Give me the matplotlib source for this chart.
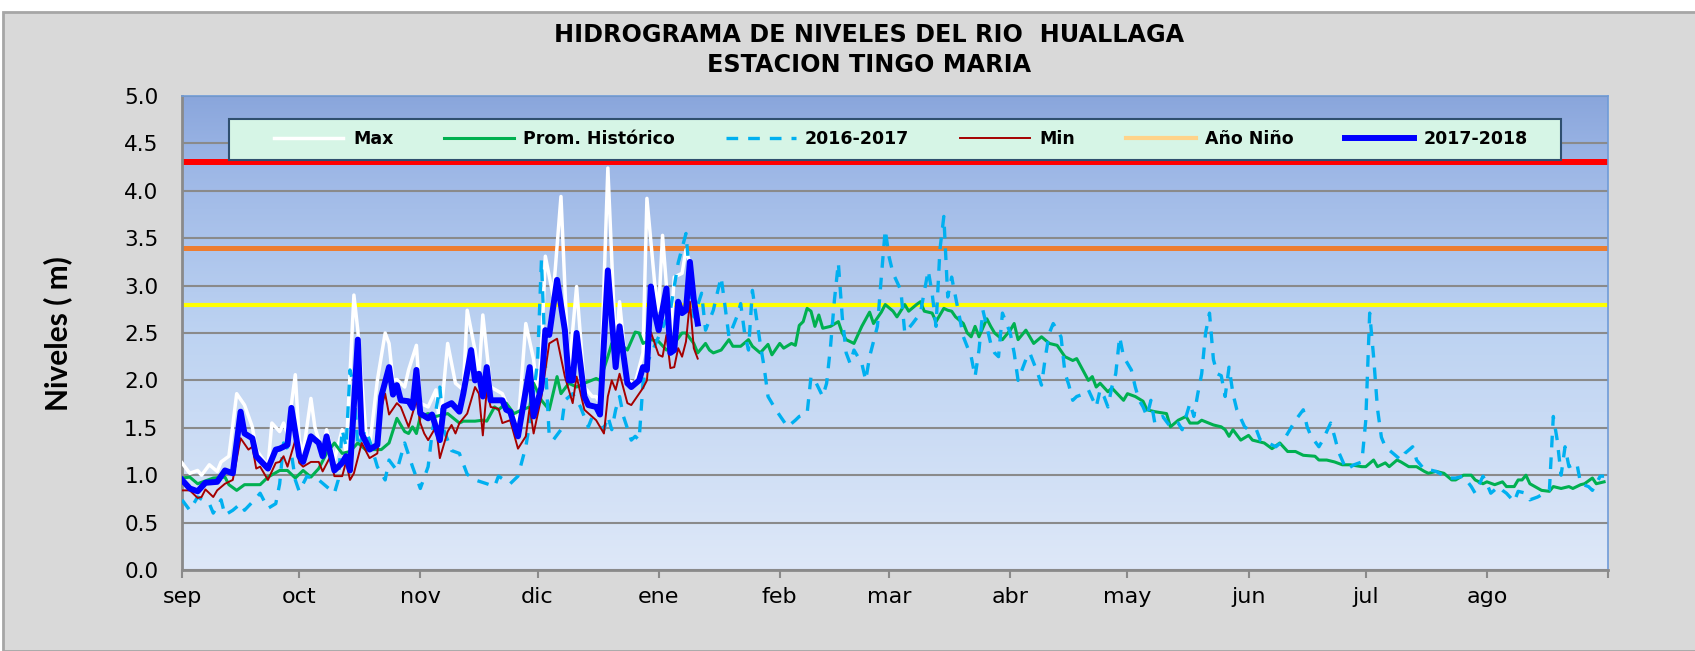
import numpy as np
import matplotlib
matplotlib.use("Agg")
import matplotlib.pyplot as plt
from matplotlib.colors import LinearSegmentedColormap
from matplotlib.patches import Rectangle

# months (hydrological year sep -> ago) and their lengths in days
months = ["sep", "oct", "nov", "dic", "ene", "feb", "mar", "abr", "may", "jun", "jul", "ago"]
month_len = [30, 31, 30, 31, 31, 28, 31, 30, 31, 30, 31, 31]

# threshold levels (m)
umbral_rojo = 4.3
umbral_naranja = 3.4
umbral_amarillo = 2.8

# 2017-2018 (day of hydrological year, level m)
d_1718 = [0, 2, 4, 6, 9, 11, 13, 15, 16, 18, 19, 22, 24, 25, 27, 28, 30, 31, 33, 35, 36, 37, 39, 41, 42, 43,
          45, 46, 48, 50, 51, 53, 54, 55, 56, 58, 59, 60, 61, 63, 64, 66, 67, 69, 71, 72, 74, 75, 76, 77, 78,
          79, 82, 83, 84, 86, 89, 90, 92, 93, 94, 96, 98, 99, 100, 101, 103, 104, 106, 107, 109, 111, 112,
          114, 115, 117, 118, 119, 120, 121, 122, 124, 125, 126, 127, 128, 129, 130, 131, 132]
v_1718 = [0.95, 0.86, 0.83, 0.92, 0.93, 1.05, 1.02, 1.67, 1.44, 1.39, 1.20, 1.07, 1.27, 1.28, 1.32, 1.71,
          1.20, 1.14, 1.41, 1.34, 1.20, 1.41, 1.05, 1.13, 1.20, 1.05, 2.43, 1.44, 1.27, 1.32, 1.83, 2.14,
          1.85, 1.95, 1.79, 1.78, 1.71, 2.11, 1.65, 1.60, 1.64, 1.37, 1.72, 1.76, 1.67, 1.86, 2.32, 2.00,
          2.07, 1.83, 2.14, 1.79, 1.79, 1.69, 1.67, 1.41, 2.14, 1.62, 1.93, 2.53, 2.48, 3.06, 2.53, 2.00,
          2.00, 2.50, 1.83, 1.74, 1.72, 1.64, 3.16, 2.14, 2.57, 1.97, 1.93, 2.00, 2.14, 2.11, 2.99, 2.71,
          2.53, 2.97, 2.29, 2.32, 2.83, 2.71, 2.74, 3.25, 2.85, 2.60]

# Max
d_max = [0, 2, 4, 5, 7, 9, 10, 12, 14, 16, 18, 19, 22, 23, 25, 26, 27, 29, 30, 31, 33, 34, 36, 37, 39, 41,
         42, 44, 45, 47, 48, 50, 52, 53, 54, 55, 57, 58, 60, 61, 63, 65, 66, 68, 70, 72, 73, 75, 76, 77, 79,
         82, 83, 85, 86, 88, 90, 91, 92, 93, 95, 97, 98, 99, 101, 103, 105, 106, 107, 109, 111, 112, 114,
         116, 118, 119, 121, 122, 123, 125, 126, 128, 129, 130, 131]
v_max = [1.13, 1.02, 1.05, 1.00, 1.11, 1.04, 1.14, 1.20, 1.86, 1.74, 1.51, 1.27, 1.09, 1.55, 1.46, 1.55,
         1.44, 2.06, 1.37, 1.23, 1.81, 1.51, 1.23, 1.48, 1.16, 1.48, 1.23, 2.90, 2.53, 1.48, 1.30, 2.00,
         2.50, 2.39, 2.00, 2.01, 1.93, 2.11, 2.37, 1.76, 1.72, 1.90, 1.51, 2.39, 1.97, 1.90, 2.74, 2.32,
         2.04, 2.69, 1.93, 1.86, 1.76, 1.65, 1.51, 2.60, 2.22, 1.83, 2.32, 3.31, 2.89, 3.94, 2.99, 2.07,
         2.99, 1.93, 1.83, 1.83, 1.76, 4.24, 2.32, 2.83, 2.00, 1.97, 2.29, 3.92, 3.02, 2.74, 3.53, 2.46,
         3.09, 3.13, 3.38, 3.24, 2.78]

# Min
d_min = [0, 2, 4, 5, 6, 8, 9, 11, 13, 15, 17, 18, 19, 20, 22, 24, 25, 26, 27, 29, 30, 31, 33, 35, 36, 38,
         39, 41, 42, 43, 44, 46, 48, 50, 51, 52, 53, 55, 56, 58, 60, 61, 62, 63, 65, 66, 68, 69, 70, 71, 73,
         75, 76, 77, 78, 79, 81, 82, 84, 86, 88, 89, 90, 92, 94, 96, 98, 100, 101, 103, 106, 108, 109, 110,
         111, 112, 114, 115, 118, 119, 120, 122, 123, 124, 125, 126, 127, 128, 129, 130, 131, 132]
v_min = [0.84, 0.84, 0.76, 0.77, 0.85, 0.77, 0.84, 0.91, 0.95, 1.39, 1.27, 1.30, 1.07, 1.09, 0.95, 1.13,
         1.14, 1.20, 1.09, 1.37, 1.13, 1.09, 1.14, 1.14, 1.04, 1.20, 0.99, 0.99, 1.14, 0.95, 1.02, 1.34,
         1.18, 1.23, 1.71, 1.86, 1.64, 1.76, 1.72, 1.51, 1.79, 1.55, 1.44, 1.37, 1.51, 1.18, 1.46, 1.53,
         1.44, 1.55, 1.65, 1.93, 1.86, 1.42, 1.90, 1.72, 1.70, 1.55, 1.58, 1.28, 1.41, 1.72, 1.44, 1.83,
         2.39, 2.44, 2.04, 1.76, 2.04, 1.69, 1.58, 1.44, 1.83, 2.00, 1.90, 2.07, 1.76, 1.74, 1.92, 2.00,
         2.51, 2.27, 2.25, 2.48, 2.13, 2.14, 2.34, 2.25, 2.41, 2.83, 2.34, 2.23]

# Promedio historico
d_prom = [0, 2, 4, 8, 11, 12, 14, 16, 20, 22, 25, 27, 29, 31, 33, 35, 37, 39, 41, 43, 45, 47, 51, 53, 55,
          57, 58, 59, 60, 61, 63, 65, 68, 71, 72, 75, 77, 78, 80, 81, 83, 85, 87, 89, 90, 92, 94, 96, 97,
          99, 101, 103, 106, 107, 109, 110, 112, 114, 116, 117, 118, 120, 122, 124, 126, 128, 129, 131,
          132, 134, 135, 136, 138, 140, 141, 143, 145, 146, 148, 150, 151, 153, 154, 156, 157, 158, 159,
          160, 161, 162, 163, 164, 166, 168, 169, 170, 172, 174, 176, 177, 179, 180, 182, 183, 185, 186,
          188, 189, 190, 192, 193, 195, 196, 197, 198, 200, 201, 202, 203, 204, 206, 207, 208, 210, 212,
          213, 214, 216, 218, 220, 222, 224, 226, 227, 228, 229, 232, 233, 234, 235, 237, 238, 241, 242,
          244, 246, 247, 249, 252, 253, 255, 257, 258, 260, 261, 264, 266, 267, 268, 269, 271, 273, 274,
          277, 279, 281, 283, 285, 287, 290, 291, 293, 295, 297, 299, 302, 303, 305, 306, 308, 309, 311,
          312, 314, 316, 318, 319, 321, 323, 325, 326, 328, 330, 331, 333, 334, 336, 338, 339, 341, 342,
          343, 344, 345, 348, 350, 351, 353, 355, 356, 358, 359, 361, 362, 364]
v_prom = [0.97, 0.98, 0.91, 0.97, 0.98, 0.90, 0.84, 0.90, 0.90, 0.98, 1.05, 1.05, 0.97, 1.05, 0.98, 1.07,
          1.23, 1.34, 1.23, 1.25, 1.34, 1.27, 1.27, 1.34, 1.60, 1.46, 1.44, 1.51, 1.44, 1.62, 1.65, 1.62,
          1.65, 1.55, 1.57, 1.57, 1.58, 1.57, 1.72, 1.69, 1.76, 1.65, 1.69, 1.72, 1.97, 1.79, 1.69, 2.04,
          1.86, 1.97, 1.93, 1.97, 2.02, 2.00, 2.25, 2.39, 2.39, 2.32, 2.51, 2.50, 2.39, 2.43, 2.41, 2.32,
          2.39, 2.50, 2.50, 2.39, 2.29, 2.39, 2.32, 2.29, 2.32, 2.43, 2.36, 2.36, 2.43, 2.36, 2.29, 2.38,
          2.27, 2.39, 2.34, 2.39, 2.37, 2.58, 2.62, 2.76, 2.73, 2.57, 2.69, 2.55, 2.57, 2.62, 2.50, 2.43,
          2.39, 2.57, 2.72, 2.60, 2.72, 2.80, 2.73, 2.67, 2.80, 2.73, 2.80, 2.83, 2.73, 2.71, 2.62, 2.76,
          2.74, 2.73, 2.67, 2.60, 2.50, 2.46, 2.57, 2.46, 2.65, 2.57, 2.50, 2.43, 2.53, 2.60, 2.43, 2.53,
          2.39, 2.46, 2.39, 2.37, 2.25, 2.23, 2.21, 2.23, 2.00, 2.04, 1.93, 1.97, 1.88, 1.92, 1.79, 1.86,
          1.83, 1.78, 1.69, 1.67, 1.65, 1.51, 1.58, 1.62, 1.55, 1.55, 1.58, 1.53, 1.51, 1.48, 1.41, 1.48,
          1.37, 1.42, 1.37, 1.34, 1.28, 1.34, 1.25, 1.25, 1.21, 1.20, 1.16, 1.16, 1.14, 1.11, 1.11, 1.09,
          1.09, 1.16, 1.09, 1.13, 1.09, 1.16, 1.14, 1.09, 1.09, 1.04, 1.02, 1.04, 1.02, 0.95, 0.95, 1.00,
          1.00, 0.95, 0.91, 0.93, 0.90, 0.93, 0.88, 0.88, 0.95, 0.95, 1.00, 0.91, 0.84, 0.83, 0.88, 0.86,
          0.88, 0.86, 0.90, 0.91, 0.97, 0.91, 0.93]

# 2016-2017
d_1617 = [0, 2, 4, 7, 8, 10, 11, 13, 15, 16, 19, 20, 22, 24, 25, 26, 28, 29, 30, 32, 33, 35, 37, 39, 40,
          41, 42, 43, 44, 45, 47, 48, 50, 52, 53, 55, 57, 59, 61, 63, 64, 66, 67, 69, 71, 73, 75, 78, 80,
          81, 84, 86, 88, 89, 91, 92, 93, 94, 95, 97, 98, 100, 102, 104, 106, 108, 109, 110, 111, 112, 113,
          115, 116, 117, 118, 119, 122, 125, 127, 129, 130, 131, 133, 134, 136, 137, 138, 139, 140, 142,
          143, 144, 145, 146, 148, 149, 150, 152, 155, 157, 158, 160, 161, 162, 164, 165, 166, 167, 168,
          169, 170, 171, 172, 174, 175, 176, 178, 179, 180, 181, 182, 184, 185, 187, 189, 191, 192, 193,
          194, 195, 196, 197, 199, 200, 202, 203, 204, 205, 207, 208, 209, 210, 212, 213, 214, 215, 216,
          217, 219, 220, 221, 222, 223, 225, 226, 227, 228, 229, 231, 232, 234, 235, 236, 237, 238, 239,
          240, 241, 242, 243, 244, 245, 246, 247, 248, 249, 251, 253, 255, 256, 258, 259, 260, 261, 262,
          263, 264, 265, 266, 267, 268, 269, 270, 272, 273, 275, 276, 278, 280, 282, 284, 285, 287, 288,
          289, 291, 292, 294, 295, 296, 298, 300, 302, 303, 304, 305, 306, 307, 308, 310, 312, 313, 315,
          316, 318, 319, 321, 324, 326, 328, 330, 331, 333, 334, 335, 337, 338, 339, 341, 342, 344, 345,
          347, 350, 351, 352, 353, 354, 355, 357, 358, 360, 361, 362, 363, 364]
v_1617 = [0.74, 0.63, 0.77, 0.70, 0.60, 0.74, 0.58, 0.63, 0.70, 0.63, 0.76, 0.81, 0.65, 0.70, 0.91, 1.34,
          1.23, 0.95, 0.83, 0.99, 0.97, 0.95, 0.88, 0.81, 0.95, 1.48, 1.30, 2.11, 1.93, 1.30, 1.48, 1.37,
          1.09, 0.95, 1.16, 1.05, 1.34, 1.09, 0.86, 1.09, 1.44, 1.93, 1.48, 1.26, 1.23, 1.01, 0.95, 0.91,
          0.88, 0.99, 0.91, 0.99, 1.30, 1.55, 2.19, 3.27, 2.19, 1.41, 1.37, 1.48, 1.79, 1.86, 1.72, 1.51,
          1.72, 1.48, 1.62, 1.48, 1.69, 1.83, 1.62, 1.37, 1.41, 1.37, 1.97, 2.18, 2.46, 2.74, 3.24, 3.55,
          3.06, 2.67, 2.92, 2.53, 2.74, 2.92, 3.09, 2.78, 2.46, 2.67, 2.81, 2.50, 2.32, 2.95, 2.39, 2.14,
          1.83, 1.69, 1.51, 1.58, 1.62, 1.65, 2.04, 2.00, 1.83, 1.97, 2.36, 2.85, 3.24, 2.67, 2.29, 2.18,
          2.32, 2.18, 2.00, 2.25, 2.57, 3.09, 3.59, 3.30, 3.13, 2.95, 2.50, 2.60, 2.71, 3.16, 2.92, 2.57,
          3.38, 3.73, 2.88, 3.09, 2.67, 2.46, 2.25, 2.04, 2.32, 2.74, 2.39, 2.29, 2.25, 2.71, 2.50, 2.29,
          2.00, 2.11, 2.22, 2.29, 2.08, 1.95, 2.25, 2.50, 2.60, 2.46, 2.08, 1.95, 1.79, 1.83, 1.86, 1.90,
          1.72, 1.90, 1.83, 1.72, 1.93, 2.07, 2.46, 2.25, 2.18, 2.11, 1.93, 1.79, 1.72, 1.62, 1.79, 1.55,
          1.62, 1.51, 1.55, 1.48, 1.76, 1.62, 1.86, 2.07, 2.50, 2.71, 2.22, 2.07, 2.05, 1.83, 2.14, 1.86,
          1.69, 1.51, 1.48, 1.48, 1.37, 1.34, 1.30, 1.37, 1.51, 1.58, 1.69, 1.51, 1.41, 1.30, 1.37, 1.55,
          1.41, 1.25, 1.06, 1.11, 1.14, 1.58, 2.71, 2.25, 1.70, 1.40, 1.30, 1.23, 1.16, 1.23, 1.30, 1.16,
          1.06, 1.06, 1.04, 0.97, 0.97, 0.99, 0.88, 0.81, 0.99, 0.91, 0.81, 0.88, 0.84, 0.81, 0.72, 0.83,
          0.81, 0.74, 0.77, 0.84, 1.62, 1.37, 1.00, 1.30, 1.09, 1.13, 0.91, 0.88, 0.84, 0.91, 0.99, 0.99]

# Año Niño: sin datos en el grafico
d_nino = []
v_nino = []

month_start = np.concatenate([[0], np.cumsum(month_len)])

fig = plt.figure(figsize=(16.95, 6.51), dpi=100, facecolor="white")
fig.patches.append(Rectangle((3 / 1695, 0), 1, (651 - 12) / 651, transform=fig.transFigure,
                             facecolor="#D9D9D9", edgecolor="#A6A6A6", linewidth=2, zorder=-10))

ax = fig.add_axes([182 / 1695, 81 / 651, 1426 / 1695, 474 / 651])

# gradient plot background
grad = LinearSegmentedColormap.from_list("grad", [(0, "#DEE8F8"), (0.5, "#BDD3F2"), (0.85, "#9DB7E6"), (1, "#8AA6DC")])
ax.imshow(np.linspace(0, 1, 256).reshape(-1, 1), extent=[0, month_start[-1], 0, 5], origin="lower",
          aspect="auto", cmap=grad, zorder=0)

ax.axhline(umbral_rojo, color="#FF0000", lw=4.3, zorder=2)
ax.axhline(umbral_naranja, color="#ED7D31", lw=3.6, zorder=2)
ax.axhline(umbral_amarillo, color="#FFFF00", lw=3.0, zorder=2)

ax.plot(d_max, v_max, color="white", lw=2.5, label="Max", zorder=3)
ax.plot(d_prom, v_prom, color="#00B050", lw=2.2, label="Prom. Histórico", zorder=4)
ax.plot(d_1617, v_1617, color="#00B0F0", lw=2.4, dashes=(3.5, 3), label="2016-2017", zorder=5)
ax.plot(d_min, v_min, color="#A50000", lw=1.4, label="Min", zorder=6)
ax.plot(d_nino, v_nino, color="#FFD38A", lw=3, label="Año Niño", zorder=6)
ax.plot(d_1718, v_1718, color="#0000FF", lw=4.3, label="2017-2018", zorder=7)

ax.set_xlim(0, month_start[-1])
ax.set_ylim(0, 5)
ax.set_yticks(np.arange(0, 5.01, 0.5))
ax.set_yticklabels([f"{t:.1f}" for t in np.arange(0, 5.01, 0.5)])
ax.set_xticks(month_start)
ax.set_xticklabels(months + [""])
ax.grid(axis="y", color="#8A8A8A", lw=1.5)
for gl in ax.get_ygridlines():
    gl.set_zorder(1)

ax.tick_params(axis="y", length=0, pad=17, labelsize=15.5, labelcolor="black")
ax.tick_params(axis="x", length=6, width=1.5, color="#8A8A8A", pad=6, labelsize=16)
for s in ["left", "bottom"]:
    ax.spines[s].set_color("#8A8A8A")
    ax.spines[s].set_linewidth(2)
for s in ["top", "right"]:
    ax.spines[s].set_color("#6F9BD8")
    ax.spines[s].set_linewidth(1.2)

# legend box (mint green) and entries spread across it
ax.add_patch(Rectangle((47 / 1426, 410 / 474), 1332 / 1426, 41 / 474, transform=ax.transAxes,
                       facecolor="#D6F5E6", edgecolor="#2F4F6F", linewidth=1.5, zorder=8))
leg = ax.legend(loc="center", bbox_to_anchor=(92 / 1426, 410 / 474, 1254 / 1426, 41 / 474), mode="expand",
                ncol=6, prop={"family": "DejaVu Sans", "weight": "bold", "size": 12.5}, handlelength=4.0,
                handletextpad=0.55, frameon=False, borderaxespad=0, borderpad=0)
leg.set_zorder(9)

fig.text(0.513, 0.946, "HIDROGRAMA DE NIVELES DEL RIO  HUALLAGA", ha="center", va="center",
         fontsize=17.2, fontweight="bold", family="DejaVu Sans")
fig.text(0.513, 0.900, "ESTACION TINGO MARIA", ha="center", va="center",
         fontsize=17.2, fontweight="bold", family="DejaVu Sans")
fig.text(0.034, 0.488, "Niveles ( m)", rotation=90, ha="center", va="center",
         fontsize=21.5, fontweight="bold", family=["Liberation Sans Narrow", "Lato"])

plt.savefig("out.png", dpi=100)
